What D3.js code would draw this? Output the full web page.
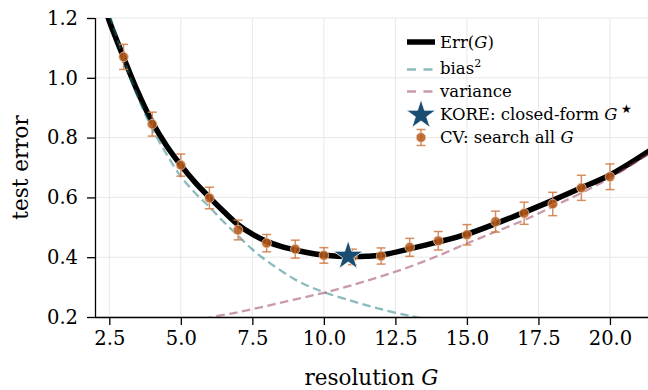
<!DOCTYPE html>
<html>
<head>
<meta charset="utf-8">
<script src="https://cdn.jsdelivr.net/npm/d3@7"></script>
<style>
  html, body { margin: 0; padding: 0; background: #fff; }
  svg { display: block; font-family: "DejaVu Serif", serif; }
</style>
</head>
<body>
<svg id="chart" width="648" height="390"></svg>
<script>
// ---------- data ----------
const xTicks = [2.5, 5, 7.5, 10, 12.5, 15, 17.5, 20];
const yTicks = [0.2, 0.4, 0.6, 0.8, 1.0, 1.2];

// CV: search all G (mean test error ± sd)
const cvG    = [3, 4, 5, 6, 7, 8, 9, 10, 11, 12, 13, 14, 15, 16, 17, 18, 19, 20];
const cvMean = [1.07, 0.845, 0.708, 0.598, 0.491, 0.447, 0.427, 0.406, 0.401, 0.404, 0.433, 0.455, 0.475, 0.519, 0.547, 0.578, 0.632, 0.669];
const cvSd   = [0.042, 0.040, 0.037, 0.036, 0.033, 0.029, 0.030, 0.026, 0.026, 0.027, 0.030, 0.031, 0.034, 0.035, 0.037, 0.039, 0.042, 0.043];

// Err(G)
const errG   = [2.4, 2.5, 3, 3.5, 4, 4.5, 5, 5.5, 6, 6.5, 7, 7.5, 8, 8.5, 9, 9.5, 10, 10.5, 11, 11.5, 12, 13, 14, 15, 16, 17, 18, 19, 20, 21.4];
const errVal = [1.22, 1.19, 1.068, 0.952, 0.852, 0.773, 0.708, 0.65, 0.6, 0.553, 0.509, 0.477, 0.453, 0.436, 0.424, 0.414, 0.407, 0.403, 0.402, 0.403, 0.407, 0.428, 0.451, 0.477, 0.512, 0.55, 0.59, 0.632, 0.675, 0.757];

// bias^2
const biasG   = [2.4, 2.5, 3, 3.5, 4, 4.5, 5, 5.5, 6, 6.5, 7, 7.5, 8, 8.5, 9, 9.5, 10, 11, 12, 13, 13.6];
const biasVal = [1.25, 1.215, 1.065, 0.935, 0.83, 0.745, 0.67, 0.615, 0.568, 0.518, 0.472, 0.426, 0.388, 0.355, 0.325, 0.302, 0.283, 0.253, 0.226, 0.204, 0.193];

// variance
const varG   = [5.8, 6, 7, 8, 9, 10, 11, 12, 13, 14, 15, 16, 17, 18, 19, 20, 21.4];
const varVal = [0.193, 0.198, 0.216, 0.237, 0.259, 0.281, 0.307, 0.336, 0.368, 0.405, 0.446, 0.485, 0.524, 0.569, 0.615, 0.665, 0.748];

// KORE closed-form G*
const koreG   = [10.85];
const koreErr = [0.404];

// ---------- layout ----------
const svg = d3.select("#chart");
const L = 95, R = 648, T = 18, B = 317;
const x = d3.scaleLinear().domain([2, 21.33]).range([L, R]);
const y = d3.scaleLinear().domain([0.2, 1.2]).range([B, T]);

const colErr = "#000000";
const colBias = "#17777a";
const colVar = "#933557";
const colStar = "#1b4d72";
const colCV = "#b5591a";
const colCVbar = "#cf7a45";

svg.append("defs").append("clipPath").attr("id", "clip")
  .append("rect").attr("x", L).attr("y", T).attr("width", R - L).attr("height", B - T);

// grid
const grid = svg.append("g");
grid.selectAll("line.gx").data(xTicks).join("line")
  .attr("x1", d => x(d)).attr("x2", d => x(d)).attr("y1", T).attr("y2", B)
  .attr("stroke", "#e8e8e8").attr("stroke-width", 1);
grid.selectAll("line.gy").data(yTicks).join("line")
  .attr("x1", L).attr("x2", R).attr("y1", d => y(d)).attr("y2", d => y(d))
  .attr("stroke", "#e8e8e8").attr("stroke-width", 1);

const plot = svg.append("g").attr("clip-path", "url(#clip)");
const line = d3.line().x(d => x(d[0])).y(d => y(d[1])).curve(d3.curveCatmullRom.alpha(0.5));

plot.append("path").datum(d3.zip(errG, errVal)).attr("d", line)
  .attr("fill", "none").attr("stroke", colErr).attr("stroke-width", 5.5).attr("stroke-linejoin", "round");
plot.append("path").datum(d3.zip(biasG, biasVal)).attr("d", line)
  .attr("fill", "none").attr("stroke", colBias).attr("stroke-opacity", 0.5)
  .attr("stroke-width", 2.3).attr("stroke-dasharray", "8.5,4.5");
plot.append("path").datum(d3.zip(varG, varVal)).attr("d", line)
  .attr("fill", "none").attr("stroke", colVar).attr("stroke-opacity", 0.5)
  .attr("stroke-width", 2.3).attr("stroke-dasharray", "8.5,4.5");

// CV error bars
const cv = d3.zip(cvG, cvMean, cvSd);
const eb = plot.append("g");
eb.selectAll("line.v").data(cv).join("line")
  .attr("x1", d => x(d[0])).attr("x2", d => x(d[0]))
  .attr("y1", d => y(d[1] - d[2])).attr("y2", d => y(d[1] + d[2]))
  .attr("stroke", colCVbar).attr("stroke-width", 1.5).attr("stroke-opacity", 0.85);
[-1, 1].forEach(s => {
  eb.selectAll("line.c" + (s > 0 ? "t" : "b")).data(cv).join("line")
    .attr("x1", d => x(d[0]) - 4.5).attr("x2", d => x(d[0]) + 4.5)
    .attr("y1", d => y(d[1] + s * d[2])).attr("y2", d => y(d[1] + s * d[2]))
    .attr("stroke", colCVbar).attr("stroke-width", 1.5).attr("stroke-opacity", 0.85);
});
eb.selectAll("circle").data(cv).join("circle")
  .attr("cx", d => x(d[0])).attr("cy", d => y(d[1])).attr("r", 4.8)
  .attr("fill", colCV).attr("fill-opacity", 0.85)
  .attr("stroke", "#f0c8b0").attr("stroke-width", 0.9).attr("stroke-opacity", 0.8);

// star
function starPath(cx, cy, r) {
  const ri = r * 0.382;
  const pts = d3.range(10).map(i => {
    const a = -Math.PI / 2 + i * Math.PI / 5;
    const rr = i % 2 === 0 ? r : ri;
    return [cx + rr * Math.cos(a), cy + rr * Math.sin(a)];
  });
  return "M" + pts.map(p => p.join(",")).join("L") + "Z";
}
svg.append("g").selectAll("path").data(d3.zip(koreG, koreErr)).join("path")
  .attr("d", d => starPath(x(d[0]), y(d[1]), 15.5))
  .attr("fill", colStar).attr("stroke", "#ffffff").attr("stroke-width", 0.8);

// axes
const axB = svg.append("g").attr("transform", `translate(0,${B})`)
  .call(d3.axisBottom(x).tickValues(xTicks).tickFormat(d3.format(".1f")).tickSize(8).tickPadding(6));
const axL = svg.append("g").attr("transform", `translate(${L},0)`)
  .call(d3.axisLeft(y).tickValues(yTicks).tickFormat(d3.format(".1f")).tickSize(8).tickPadding(9));
[axB, axL].forEach(a => {
  a.select(".domain").attr("stroke", "#000").attr("stroke-width", 1.3);
  a.selectAll(".tick line").attr("stroke", "#000").attr("stroke-width", 1.3);
  a.selectAll(".tick text").attr("fill", "#000").attr("font-family", "DejaVu Serif")
    .attr("font-size", 19.5);
});
axB.select(".domain").attr("d", `M${L},0.5H${R}`);
axL.select(".domain").attr("d", `M0.5,${B}V${T}`);

// axis labels
const xl = svg.append("text").attr("x", (L + R) / 2).attr("y", 385)
  .attr("text-anchor", "middle").attr("font-size", 21.5).attr("fill", "#000");
xl.append("tspan").text("resolution ");
xl.append("tspan").attr("font-style", "italic").text("G");

svg.append("text").attr("transform", `translate(28,${(T + B) / 2}) rotate(-90)`)
  .attr("text-anchor", "middle").attr("font-size", 21.5).attr("fill", "#000")
  .text("test error");

// legend
const lg = svg.append("g").attr("font-size", 16.5).attr("fill", "#000");
const hx0 = 407, hx1 = 435, tx = 440;
// Err
lg.append("line").attr("x1", hx0).attr("x2", hx1).attr("y1", 42).attr("y2", 42)
  .attr("stroke", colErr).attr("stroke-width", 5.5);
let t = lg.append("text").attr("x", tx).attr("y", 47.5);
t.append("tspan").text("Err(");
t.append("tspan").attr("font-style", "italic").text("G");
t.append("tspan").text(")");
// bias
lg.append("line").attr("x1", hx0).attr("x2", hx1).attr("y1", 69.5).attr("y2", 69.5)
  .attr("stroke", colBias).attr("stroke-opacity", 0.5).attr("stroke-width", 2.3).attr("stroke-dasharray", "9,7.5");
t = lg.append("text").attr("x", tx).attr("y", 74);
t.append("tspan").text("bias");
t.append("tspan").attr("font-size", 11).attr("dy", -7).text("2");
// variance
lg.append("line").attr("x1", hx0).attr("x2", hx1).attr("y1", 91.5).attr("y2", 91.5)
  .attr("stroke", colVar).attr("stroke-opacity", 0.5).attr("stroke-width", 2.3).attr("stroke-dasharray", "9,7.5");
lg.append("text").attr("x", tx).attr("y", 97).text("variance");
// KORE
lg.append("path").attr("d", starPath(421, 115, 15.5)).attr("fill", colStar)
  .attr("stroke", "#fff").attr("stroke-width", 0.8);
t = lg.append("text").attr("x", tx).attr("y", 120);
t.append("tspan").text("KORE: closed-form ");
t.append("tspan").attr("font-style", "italic").text("G");
t.append("tspan").attr("font-size", 12).attr("dy", -7).attr("dx", 3).text("\u2605");
// CV
const cvy = 137.5;
lg.append("line").attr("x1", 421).attr("x2", 421).attr("y1", cvy - 8).attr("y2", cvy + 8)
  .attr("stroke", colCVbar).attr("stroke-width", 1.5).attr("stroke-opacity", 0.85);
[-8, 8].forEach(o => lg.append("line").attr("x1", 416.5).attr("x2", 425.5)
  .attr("y1", cvy + o).attr("y2", cvy + o)
  .attr("stroke", colCVbar).attr("stroke-width", 1.5).attr("stroke-opacity", 0.85));
lg.append("circle").attr("cx", 421).attr("cy", cvy).attr("r", 4.8)
  .attr("fill", colCV).attr("fill-opacity", 0.85)
  .attr("stroke", "#f0c8b0").attr("stroke-width", 0.9);
t = lg.append("text").attr("x", tx).attr("y", 143);
t.append("tspan").text("CV: search all ");
t.append("tspan").attr("font-style", "italic").text("G");
</script>
</body>
</html>
